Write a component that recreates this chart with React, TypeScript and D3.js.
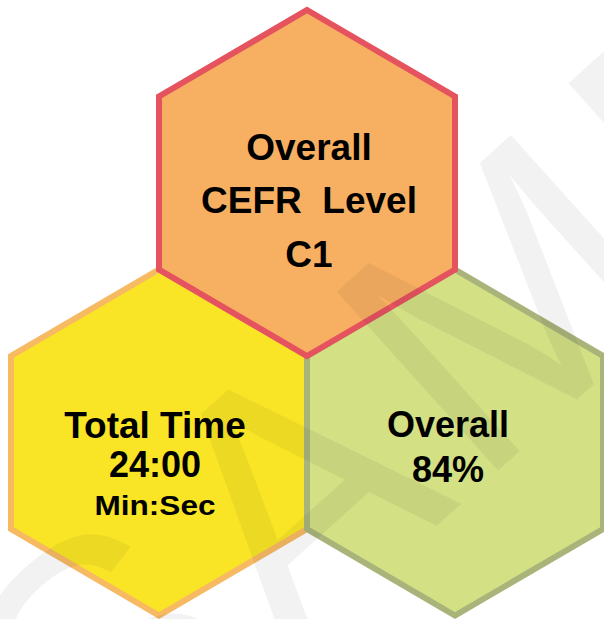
import React from "react";
import * as d3 from "d3";

// tiles, drawn in this order (bottom row first so the top tile's border sits on top)
const tileNames = ["time", "score", "cefr"];
const tileCol = [0, 2, 1];
const tileRow = [1, 1, 0];
const tileLines = [
  ["Total Time", "24:00", "Min:Sec"],
  ["Overall", "84%"],
  ["Overall", "CEFR  Level", "C1"],
];
const tileFills = ["#F9E526", "#D3E084", "#F7AF62"];
const tileStrokes = ["#F7BA63", "#A9B47B", "#E5535F"];

const W = 604;
const H = 619;
const HW = 148; // half width of a hex
const R = 173; // half height (point to center)

// text layout per tile: horizontal nudge, baselines (relative to centre), font sizes
const textDx = [-4, -7, 2];
const textDy = [
  [-4.5, 34.5, 72.5],
  [-5.5, 39.5],
  [-23, 30, 84],
];
const textSize = [
  [37, 36, 28],
  [36, 36],
  [37, 37, 37],
];
const textFit = [[null, null, 121], [null, null], [null, null, null]];

const x = d3.scaleLinear().domain([0, 2]).range([159, 455]);
const y = d3.scaleLinear().domain([0, 1]).range([183, 183 + 1.5 * R]);

const hexPath = (cx: number, cy: number) => {
  const pts: [number, number][] = [
    [cx, cy - R],
    [cx + HW, cy - R / 2],
    [cx + HW, cy + R / 2],
    [cx, cy + R],
    [cx - HW, cy + R / 2],
    [cx - HW, cy - R / 2],
  ];
  return d3.line().curve(d3.curveLinearClosed)(pts) as string;
};

export default function App() {
  const font = "'Liberation Sans', Arial, sans-serif";
  return (
    <svg
      width={W}
      height={H}
      style={{ position: "absolute", left: 0, top: 0, display: "block", background: "#fff" }}
    >
      {tileNames.map((name, i) => (
        <path
          key={name}
          d={hexPath(x(tileCol[i]), y(tileRow[i]))}
          fill={tileFills[i]}
          stroke={tileStrokes[i]}
          strokeWidth={6}
          strokeLinejoin="miter"
        />
      ))}
      {tileNames.map((name, i) => (
        <g key={name + "-t"}>
          {tileLines[i].map((line, j) => (
            <text
              key={j}
              x={x(tileCol[i]) + textDx[i]}
              y={y(tileRow[i]) + textDy[i][j]}
              textAnchor="middle"
              fontFamily={font}
              fontWeight="bold"
              fontSize={textSize[i][j]}
              fill="#000"
              style={{ whiteSpace: "pre" }}
              {...(textFit[i][j] ? { textLength: textFit[i][j], lengthAdjust: "spacingAndGlyphs" } : {})}
            >
              {line}
            </text>
          ))}
        </g>
      ))}
      {/* watermark */}
      <text
        x={100}
        y={829}
        transform="rotate(-42, 100, 829)"
        fontFamily={font}
        fontSize={350}
        letterSpacing={20}
        fill="#000"
        fillOpacity={0.05}
      >
        SAMPLE
      </text>
    </svg>
  );
}
